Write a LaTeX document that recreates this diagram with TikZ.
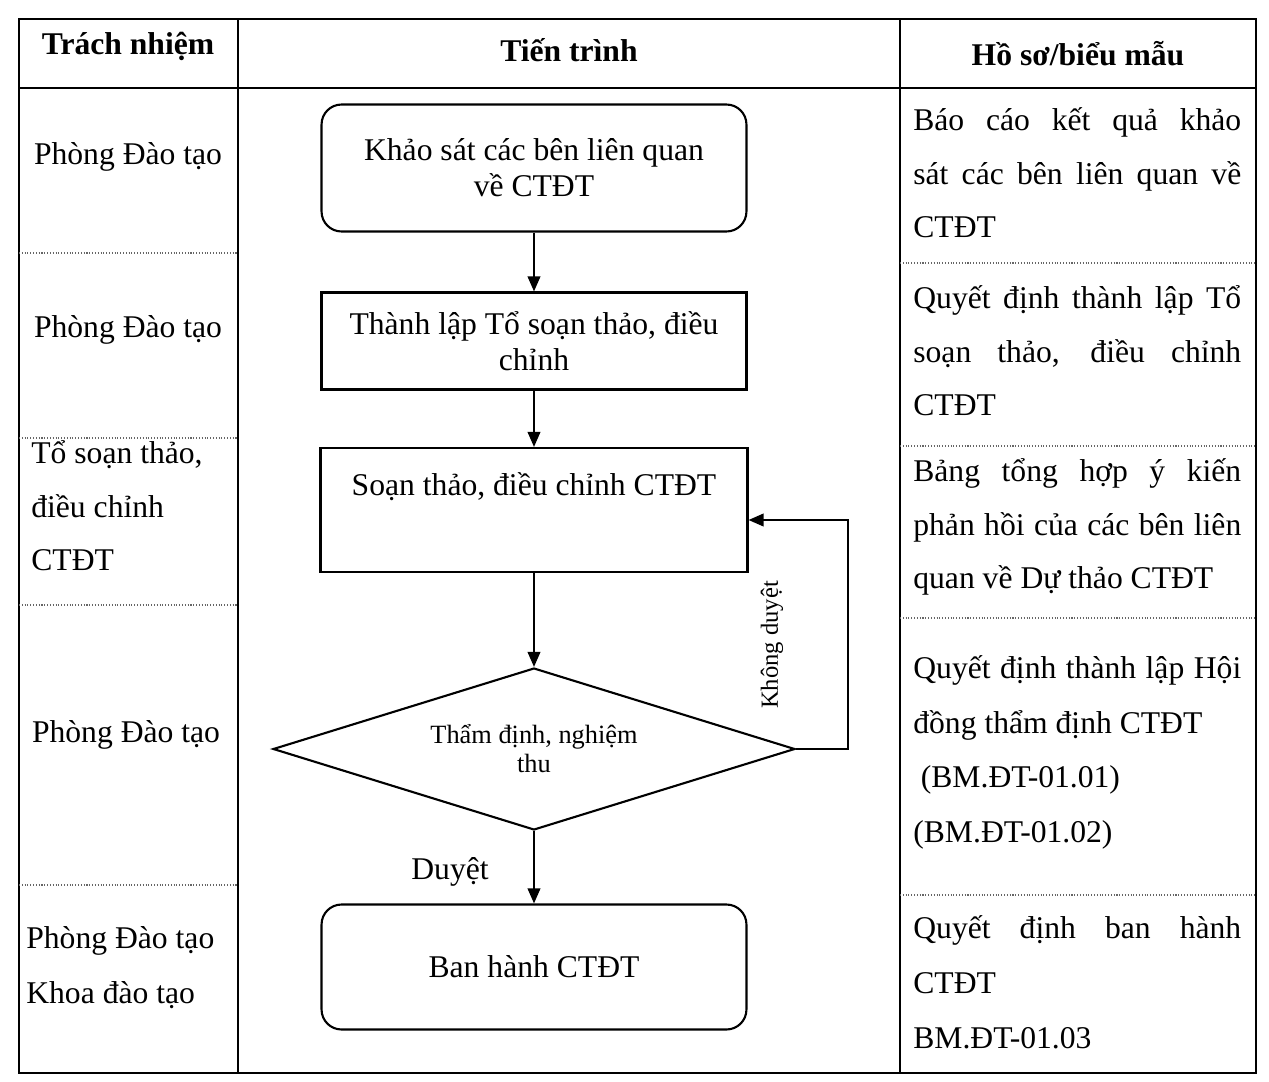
\documentclass[tikz,border=0pt]{standalone}
\usepackage{fontspec}
\setmainfont{Liberation Serif}
\usetikzlibrary{shapes.geometric,arrows.meta}
\tikzset{
  plainbox/.style={draw, line width=1.2pt, inner sep=2pt},
  flowtxt/.style={font=\fontsize{18}{20.5}\selectfont, align=center},
  procbox/.style={plainbox, flowtxt, minimum width=8.5cm},
  roundbox/.style={procbox, rounded corners=0.4cm},
  cellsep/.style={densely dotted, line width=0.6pt, black!60},
  celltxt/.style={font=\fontsize{18}{30.6}\selectfont, align=left, inner sep=0pt, anchor=north west},
  flowarrow/.style={line width=1.2pt, -{Triangle[length=0.3cm,width=0.25cm]}},
  headtxt/.style={font=\fontsize{18}{20}\selectfont\bfseries},
}
\newcommand{\jline}[1]{\makebox[6.56cm][s]{#1}}

\begin{document}
\begin{tikzpicture}[x=0.02cm,y=-0.02cm]
		%%%%% START %%%%%
		\useasboundingbox (0,0) rectangle (1269,1082);
		
		% table frame
		\draw[line width=1pt] (19,19) rectangle (1256,1073);
		\draw[line width=1pt] (19,88) -- (1256,88);
		\draw[line width=1pt] (238,19) -- (238,1073);
		\draw[line width=1pt] (900,19) -- (900,1073);
		
		\node[headtxt] (hdresp) at (128,46) {Trách nhiệm};
		\node[headtxt] (hdproc) at (569,50) {Tiến trình};
		\node[headtxt] (hdform) at (1078,54) {Hồ sơ/biểu mẫu};
		
		% dotted row lines
		\draw[cellsep] (19,253) -- (238,253);
		\draw[cellsep] (19,438) -- (238,438);
		\draw[cellsep] (19,605) -- (238,605);
		\draw[cellsep] (19,885) -- (238,885);
		\draw[cellsep] (900,263) -- (1256,263);
		\draw[cellsep] (900,446) -- (1256,446);
		\draw[cellsep] (900,618) -- (1256,618);
		\draw[cellsep] (900,895) -- (1256,895);
		
		% responsibility column
		\node[flowtxt] (resp1) at (128,157) {Phòng Đào tạo};
		\node[flowtxt] (resp2) at (128,330) {Phòng Đào tạo};
		\node[celltxt] (resp3) at (31,440) {Tổ soạn thảo,\\điều chỉnh\\CTĐT};
		\node[flowtxt] (resp4) at (126,735) {Phòng Đào tạo};
		\node[celltxt, font=\fontsize{18}{31.5}\selectfont] (resp5) at (26,926) {Phòng Đào tạo\\Khoa đào tạo};
		
		% process column
		\node[roundbox, minimum height=2.54cm] (khaosat) at (534,168) {Khảo sát các bên liên quan\\về CTĐT};
		\node[procbox, minimum height=1.94cm] (thanhlap) at (534,341) {Thành lập Tổ soạn thảo, điều\\chỉnh};
		\node[plainbox, inner sep=0pt, font=\fontsize{18}{20.5}\selectfont, minimum width=8.54cm, minimum height=2.48cm] (soan) at (534,510) {\parbox[c][1.5cm][t]{8cm}{\centering Soạn thảo, điều chỉnh CTĐT}};
		\node[draw, diamond, aspect=3.22, minimum width=10.44cm, minimum height=3.24cm, inner sep=0pt, line width=1.2pt, font=\fontsize{15}{16.5}\selectfont, align=center] (thamdinh) at (534,749) {Thẩm định, nghiệm\\thu};
		\node[roundbox, minimum height=2.5cm] (banhanh) at (534,967) {Ban hành CTĐT};
		
		\draw[flowarrow] (khaosat) -- (thanhlap);
		\draw[flowarrow] (thanhlap) -- (soan);
		\draw[flowarrow] (soan) -- (thamdinh);
		\draw[flowarrow] (thamdinh) -- (banhanh);
		\node[flowtxt] (duyet) at (450,872) {Duyệt};
		
		\coordinate (loopa) at (848,749);
		\coordinate (loopb) at (848,520);
		\draw[flowarrow] (thamdinh.east) -- (loopa) -- (loopb) -- (soan.east |- loopb);
		\node[rotate=90, font=\fontsize{14}{16}\selectfont] (khongduyet) at (772,645) {Không duyệt};
		
		% forms column
		\node[celltxt] (form1) at (913,107) {\jline{Báo cáo kết quả khảo}\\\jline{sát các bên liên quan về}\\CTĐT};
		\node[celltxt] (form2) at (913,285) {\jline{Quyết định thành lập Tổ}\\\jline{soạn thảo, điều chỉnh}\\CTĐT};
		\node[celltxt] (form3) at (913,458) {\jline{Bảng tổng hợp ý kiến}\\\jline{phản hồi của các bên liên}\\quan về Dự thảo CTĐT};
		\node[celltxt, font=\fontsize{18}{31.2}\selectfont] (form4) at (913,655) {\jline{Quyết định thành lập Hội}\\đồng thẩm định CTĐT\\\hspace{0.15cm}(BM.ĐT-01.01)\\(BM.ĐT-01.02)};
		\node[celltxt, font=\fontsize{18}{31.5}\selectfont] (form5) at (913,915) {\jline{Quyết định ban hành}\\CTĐT\\BM.ĐT-01.03};
		%%%%% END %%%%%
\end{tikzpicture}
\end{document}
